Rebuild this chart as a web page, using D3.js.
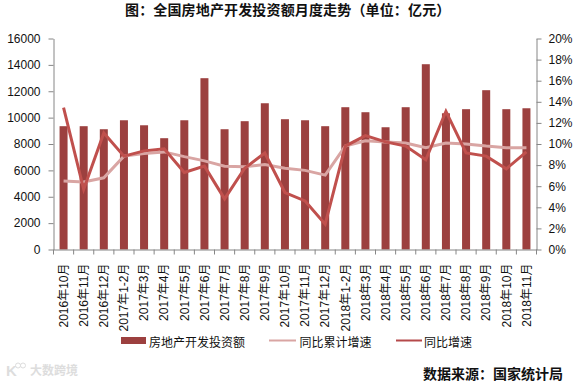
<!DOCTYPE html>
<html>
<head>
<meta charset="utf-8">
<script src="https://cdn.jsdelivr.net/npm/d3@7"></script>
<style>
html, body { margin: 0; padding: 0; background: #fff; }
svg { display: block; }
text { font-family: "Liberation Sans", "Noto Sans CJK SC", sans-serif; fill: #111; }
</style>
</head>
<body>
<div id="chart"></div>
<script>
const months = ["2016年10月", "2016年11月", "2016年12月", "2017年1-2月", "2017年3月", "2017年4月", "2017年5月", "2017年6月", "2017年7月", "2017年8月", "2017年9月", "2017年10月", "2017年11月", "2017年12月", "2018年1-2月", "2018年3月", "2018年4月", "2018年5月", "2018年6月", "2018年7月", "2018年8月", "2018年9月", "2018年10月", "2018年11月"];
const investment = [9350, 9350, 9120, 9800, 9420, 8440, 9800, 12990, 9120, 9730, 11090, 9880, 9800, 9350, 10790, 10410, 9270, 10790, 14050, 10330, 10640, 12080, 10640, 10710];
const cumulative = [6.5, 6.4, 6.8, 8.85, 9.1, 9.25, 8.8, 8.4, 7.9, 7.85, 8.05, 7.7, 7.5, 7.05, 9.8, 10.3, 10.2, 10.1, 9.65, 10.1, 10.0, 9.8, 9.65, 9.65];
const yoy = [13.45, 5.7, 11.05, 8.85, 9.35, 9.55, 7.3, 7.9, 4.8, 7.7, 9.15, 5.4, 4.6, 2.4, 9.8, 10.8, 10.2, 9.8, 8.5, 13.1, 9.15, 8.85, 7.65, 9.25];
const leftTicks = [0, 2000, 4000, 6000, 8000, 10000, 12000, 14000, 16000];
const rightTicks = [0, 2, 4, 6, 8, 10, 12, 14, 16, 18, 20];

const W = 579, H = 382;
const plot = { left: 53.5, right: 536.5, top: 38.5, bottom: 249.5 };

const svg = d3.select("#chart").append("svg").attr("width", W).attr("height", H);

const x = d3.scaleBand().domain(months).range([plot.left, plot.right]);
const yLeft = d3.scaleLinear().domain([0, 16000]).range([plot.bottom, plot.top]);
const yRight = d3.scaleLinear().domain([0, 20]).range([plot.bottom, plot.top]);

// Title
svg.append("text")
    .attr("x", 125).attr("y", 15)
    .style("font-size", "14px").style("font-weight", "bold")
    .style("letter-spacing", "0.15px")
    .text("图：全国房地产开发投资额月度走势（单位：亿元）");

// Bars
svg.selectAll("rect.bar")
    .data(investment)
    .enter()
    .append("rect")
    .attr("class", "bar")
    .attr("x", (d, i) => x(months[i]) + x.bandwidth() / 2 - 4)
    .attr("y", d => yLeft(d))
    .attr("width", 8)
    .attr("height", d => plot.bottom - yLeft(d))
    .attr("fill", "#9c403f");

// Lines
const lineFor = () => d3.line()
    .x((d, i) => x(months[i]) + x.bandwidth() / 2)
    .y(d => yRight(d));

svg.append("path").datum(cumulative)
    .attr("d", lineFor())
    .attr("fill", "none").attr("stroke", "#d9a5a3").attr("stroke-width", 3);

svg.append("path").datum(yoy)
    .attr("d", lineFor())
    .attr("fill", "none").attr("stroke", "#c0504d").attr("stroke-width", 3);

// Axes
const styleAxis = g => {
    g.selectAll(".domain, .tick line").attr("stroke", "#868686");
    g.selectAll("text").style("font-size", "12px").style("fill", "#111");
};

svg.append("g")
    .attr("transform", `translate(${plot.left},0)`)
    .call(d3.axisLeft(yLeft).tickValues(leftTicks).tickSize(5).tickSizeOuter(0).tickFormat(d3.format("d")))
    .call(styleAxis)
    .call(g => g.selectAll("text").attr("x", -13));

svg.append("g")
    .attr("transform", `translate(${plot.right},0)`)
    .call(d3.axisRight(yRight).tickValues(rightTicks).tickSize(5).tickSizeOuter(0).tickFormat(d => d + "%"))
    .call(styleAxis)
    .call(g => g.selectAll("text").attr("x", 12));

const xAxis = svg.append("g")
    .attr("transform", `translate(0,${plot.bottom})`)
    .call(d3.axisBottom(x).tickSize(0).tickSizeOuter(0))
    .call(styleAxis);

xAxis.selectAll("text")
    .attr("text-anchor", "end")
    .attr("x", -14).attr("y", 0).attr("dy", "0.35em")
    .attr("transform", "rotate(-90)");

// Tick marks sit on the band edges, not the band centres
xAxis.selectAll("line.edge")
    .data(d3.range(months.length + 1))
    .enter()
    .append("line")
    .attr("class", "edge")
    .attr("x1", i => plot.left + i * x.bandwidth())
    .attr("x2", i => plot.left + i * x.bandwidth())
    .attr("y1", 0).attr("y2", 5)
    .attr("stroke", "#868686");

// Legend
const legend = svg.append("g").style("font-size", "12px");
legend.append("rect").attr("x", 121).attr("y", 337).attr("width", 25).attr("height", 7).attr("fill", "#9c403f");
legend.append("text").attr("x", 149).attr("y", 347).text("房地产开发投资额");
legend.append("line").attr("x1", 269).attr("x2", 296).attr("y1", 340.5).attr("y2", 340.5).attr("stroke", "#d9a5a3").attr("stroke-width", 2);
legend.append("text").attr("x", 299.5).attr("y", 347).text("同比累计增速");
legend.append("line").attr("x1", 396).attr("x2", 422).attr("y1", 340.5).attr("y2", 340.5).attr("stroke", "#b5494a").attr("stroke-width", 2);
legend.append("text").attr("x", 424).attr("y", 347).text("同比增速");

// Source
svg.append("text")
    .attr("x", 423).attr("y", 379)
    .style("font-size", "14px").style("font-weight", "bold")
    .text("数据来源：国家统计局");

// Watermark: logo scribble and site name
const mark = svg.append("g");
mark.append("text")
    .attr("x", 6).attr("y", 376)
    .style("font-size", "15px").style("font-weight", "bold").style("fill", "#ddd")
    .text("K");
mark.selectAll("circle")
    .data([18, 23])
    .enter()
    .append("circle")
    .attr("cx", d => d).attr("cy", 365.5).attr("r", 2.5)
    .attr("fill", "none").attr("stroke", "#ddd");
mark.append("text")
    .attr("x", 30).attr("y", 375)
    .style("font-size", "12px").style("font-weight", "bold").style("fill", "#ddd")
    .text("大数跨境");
</script>
</body>
</html>
